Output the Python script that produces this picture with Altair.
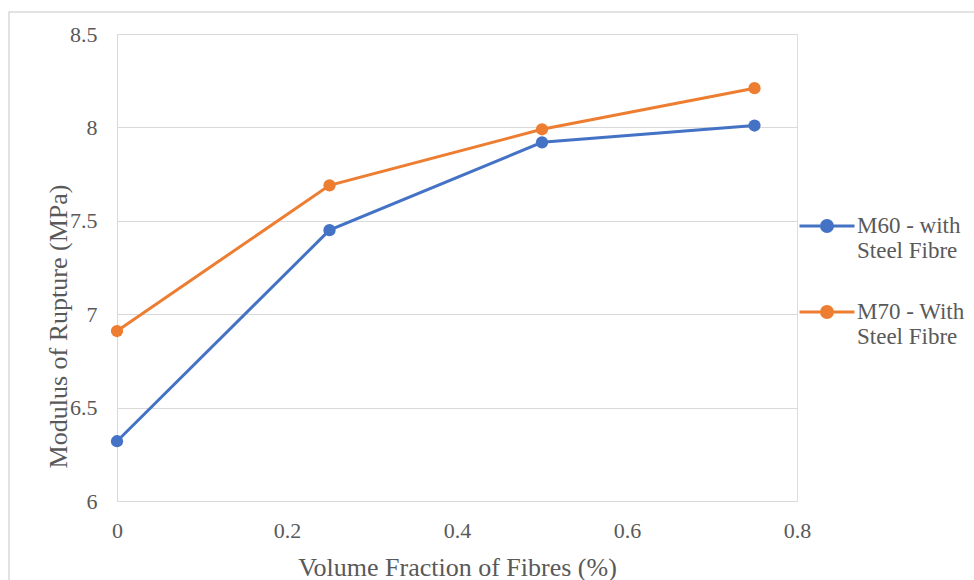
import altair as alt
import pandas as pd

fractions = [0, 0.25, 0.5, 0.75]
m60 = [6.32, 7.45, 7.92, 8.01]
m70 = [6.91, 7.69, 7.99, 8.21]
series_names = ["M60 - with|Steel Fibre", "M70 - With|Steel Fibre"]
colors = ["#4472C4", "#ED7D31"]
y_ticks = [6, 6.5, 7, 7.5, 8, 8.5]
x_ticks = [0, 0.2, 0.4, 0.6, 0.8]

rows = []
for name, vals in zip(series_names, [m60, m70]):
    for f, v in zip(fractions, vals):
        rows.append({"fraction": f, "mor": v, "series": name})
df = pd.DataFrame(rows)

FONT = "Liberation Serif"
GRAY = "#595959"
GRID = "#d9d9d9"

sym = ("M-1,0L1,0 "
       "M0.2,0A0.2,0.2,0,1,1,-0.2,0A0.2,0.2,0,1,1,0.2,0 "
       "M0.07,0A0.07,0.07,0,1,1,-0.07,0A0.07,0.07,0,1,1,0.07,0")

color = alt.Color(
    "series:N",
    scale=alt.Scale(domain=series_names, range=colors),
    legend=alt.Legend(
        title=None,
        orient="none",
        legendX=681,
        legendY=163,
        symbolType=sym,
        symbolSize=3025,
        symbolStrokeWidth=3,
        labelExpr="split(datum.label, '|')",
        labelFont=FONT,
        labelFontSize=23,
        labelColor=GRAY,
        labelOffset=1,
        labelLimit=300,
        rowPadding=20,
    ),
)

x = alt.X(
    "fraction:Q",
    scale=alt.Scale(domain=[0, 0.8], nice=False),
    axis=alt.Axis(
        values=x_ticks, format="~g", title="Volume Fraction of Fibres (%)",
        grid=False, domain=False, ticks=False, labelPadding=19, labelFlush=False,
        labelFont=FONT, labelFontSize=22, labelColor=GRAY,
        titleFont=FONT, titleFontSize=26, titleColor=GRAY, titleFontWeight="normal",
        titleY=66, titleBaseline="middle",
    ),
)
y = alt.Y(
    "mor:Q",
    scale=alt.Scale(domain=[6, 8.5], nice=False, zero=False),
    axis=alt.Axis(
        values=y_ticks, format="~g", title="Modulus of Rupture (MPa)",
        grid=True, gridColor=GRID, gridWidth=1, domain=True, domainColor=GRID,
        domainWidth=1, ticks=False, labelPadding=20, labelFlush=False,
        labelFont=FONT, labelFontSize=22, labelColor=GRAY,
        titleFont=FONT, titleFontSize=26, titleColor=GRAY, titleFontWeight="normal",
        titleX=-59, titleY=292, titleBaseline="middle", titleAngle=270,
    ),
)

lines = alt.Chart(df).mark_line(strokeWidth=3).encode(x=x, y=y, color=color)
points = alt.Chart(df).mark_circle(size=150, opacity=1).encode(
    x=alt.X("fraction:Q"), y=alt.Y("mor:Q"), color=alt.Color("series:N")
)
border = alt.Chart(pd.DataFrame({"a": [0]})).mark_rect(
    fill=None, stroke=GRID, strokeWidth=1.5
).encode(x=alt.value(-108), x2=alt.value(900), y=alt.value(-22), y2=alt.value(700))

chart = alt.layer(border, lines, points).properties(
    width=680, height=467,
    autosize=alt.AutoSizeParams(type="none"),
    padding={"left": 117, "top": 34, "right": 177, "bottom": 79},
).configure_view(stroke=None).configure(background="white")

chart.save("out.html", embed_options={"renderer": "svg", "actions": False})
